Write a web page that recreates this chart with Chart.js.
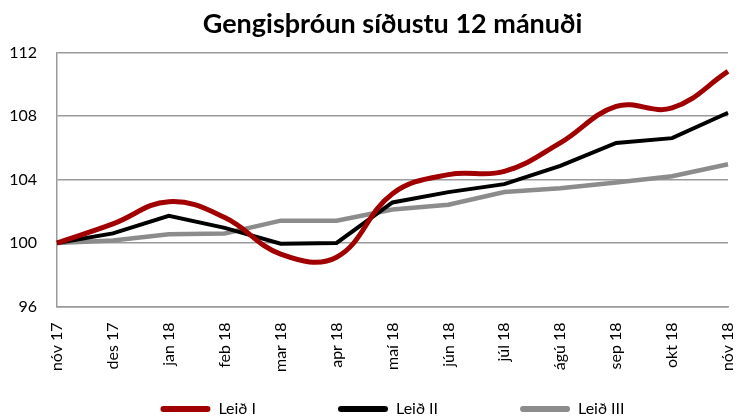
<!DOCTYPE html>
<html>
<head>
<meta charset="utf-8">
<script src="https://cdn.jsdelivr.net/npm/chart.js@4"></script>
<style>
  html, body { margin: 0; padding: 0; background: #fff; }
  #wrap { width: 738px; height: 419px; }
</style>
</head>
<body>
<div id="wrap"><canvas id="gengiChart"></canvas></div>
<script>
const months = ['nóv 17', 'des 17', 'jan 18', 'feb 18', 'mar 18', 'apr 18', 'maí 18',
                'jún 18', 'júl 18', 'ágú 18', 'sep 18', 'okt 18', 'nóv 18'];
const leidI   = [100, 101.2, 102.6, 101.6, 99.3, 99.1, 103.1, 104.3, 104.5, 106.3, 108.6, 108.5, 110.8];
const leidII  = [100, 100.6, 101.7, 100.95, 99.95, 100.0, 102.55, 103.2, 103.7, 104.85, 106.3, 106.6, 108.2];
const leidIII = [100, 100.15, 100.55, 100.6, 101.4, 101.4, 102.1, 102.4, 103.2, 103.45, 103.8, 104.2, 104.95];
const yTicks = [96, 100, 104, 108, 112];

const colors = {
    red: '#a00000',
    black: '#000000',
    gray: '#8c8c8c',
    grid: '#9a9a9a'
};

const font = 'Lato, "Open Sans", sans-serif';

// legend items need wide gaps but a short box; padding drives both, so pull the items up
const legendShift = {
    id: 'legendShift',
    afterLayout(chart) {
        const legend = chart.legend;
        if (!legend || legend._shifted) return;
        const inner = legend._draw.bind(legend);
        legend._draw = function () {
            this.ctx.save();
            this.ctx.translate(0, -69);
            inner();
            this.ctx.restore();
        };
        legend._shifted = true;
    }
};

new Chart(document.getElementById('gengiChart'), {
    type: 'line',
    data: {
        labels: months,
        datasets: [
            { label: 'Leið I', data: leidI, borderColor: colors.red, backgroundColor: colors.red,
              borderWidth: 5, tension: 0.4, pointRadius: 0 },
            { label: 'Leið II', data: leidII, borderColor: colors.black, backgroundColor: colors.black,
              borderWidth: 4, tension: 0, pointRadius: 0 },
            { label: 'Leið III', data: leidIII, borderColor: colors.gray, backgroundColor: colors.gray,
              borderWidth: 4.5, tension: 0, pointRadius: 0 }
        ]
    },
    plugins: [legendShift],
    options: {
        responsive: true,
        maintainAspectRatio: false,
        animation: false,
        layout: { padding: { left: 9, right: 5, top: 0, bottom: 0 } },
        plugins: {
            title: {
                display: true,
                fullSize: false,
                text: 'Gengisþróun síðustu 12 mánuði',
                color: '#000',
                font: { family: font, size: 27, weight: 'bold' },
                padding: { top: 8, bottom: 12 }
            },
            legend: {
                position: 'bottom',
                fullSize: false,
                maxHeight: 31,
                labels: {
                    color: '#000',
                    font: { family: font, size: 16 },
                    boxWidth: 50,
                    boxHeight: 6,
                    useBorderRadius: true,
                    borderRadius: 3,
                    padding: 82,
                    generateLabels: chart =>
                        Chart.defaults.plugins.legend.labels.generateLabels(chart)
                            .map(item => ({ ...item, lineWidth: 0 }))
                }
            },
            tooltip: { enabled: false }
        },
        scales: {
            x: {
                afterFit: axis => { axis.paddingRight = 10; axis.paddingLeft = 0; },
                grid: { display: false, drawTicks: false },
                border: { display: true, color: colors.grid, width: 1.5 },
                ticks: {
                    color: '#000',
                    font: { family: font, size: 16 },
                    maxRotation: 90,
                    minRotation: 90,
                    padding: 16,
                    autoSkip: false
                }
            },
            y: {
                min: 96,
                max: 112,
                afterBuildTicks: axis => { axis.ticks = yTicks.map(v => ({ value: v })); },
                afterFit: axis => { axis.width = 48; },
                grid: { color: colors.grid, lineWidth: 1.5, drawTicks: false },
                border: { display: true, color: colors.grid, width: 1.5 },
                ticks: {
                    color: '#000',
                    font: { family: font, size: 16 },
                    padding: 20
                }
            }
        }
    }
});
</script>
</body>
</html>
